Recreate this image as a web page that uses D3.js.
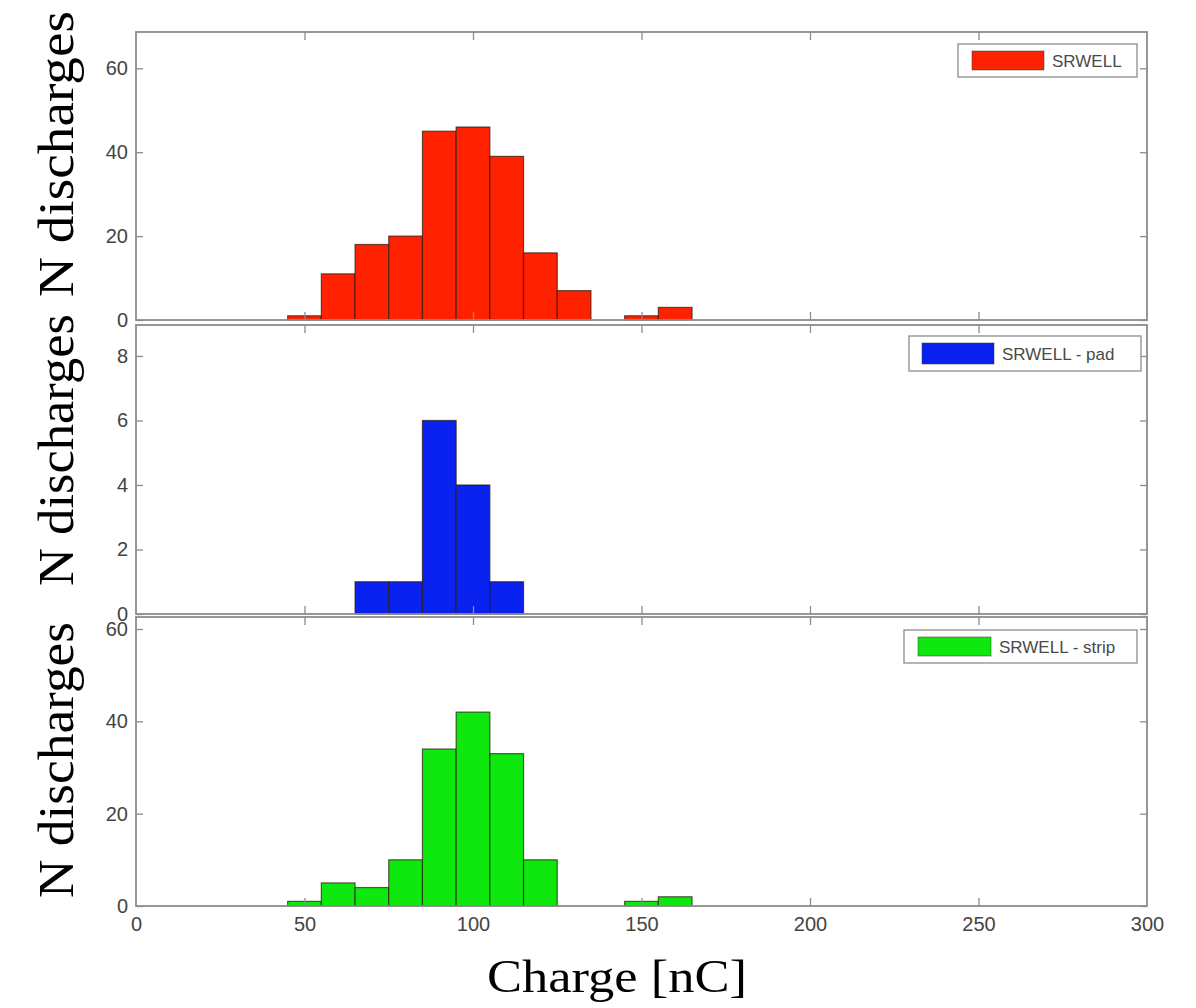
<!DOCTYPE html>
<html>
<head>
<meta charset="utf-8">
<script src="https://cdn.jsdelivr.net/npm/d3@7"></script>
<style>
  html, body { margin: 0; padding: 0; background: #fff; }
  svg { display: block; }
</style>
</head>
<body>
<svg id="chart" width="1196" height="1008"></svg>
<script>
// ---- data ----
const binStarts = [45, 55, 65, 75, 85, 95, 105, 115, 125, 135, 145, 155];
const binWidth = 10;
const srwell      = [1, 11, 18, 20, 45, 46, 39, 16, 7, 0, 1, 3];
const srwellPad   = [0, 0, 1, 1, 6, 4, 1, 0, 0, 0, 0, 0];
const srwellStrip = [1, 5, 4, 10, 34, 42, 33, 10, 0, 0, 1, 2];
const seriesNames = ["SRWELL", "SRWELL - pad", "SRWELL - strip"];
const seriesColors = ["#ff2200", "#0a22f0", "#0ee80e"];
const xTicks = [0, 50, 100, 150, 200, 250, 300];
const yTicksTop = [0, 20, 40, 60];
const yTicksMid = [0, 2, 4, 6, 8];
const yTicksBot = [0, 20, 40, 60];
const yLabel = "N discharges";
const xLabel = "Charge [nC]";

// ---- layout ----
const svg = d3.select("#chart");
const x = d3.scaleLinear().domain([0, 300]).range([136, 1147]);

const panels = [
  { values: srwell,      ticks: yTicksTop, yMax: 68.65, top: 32,  bottom: 320, name: seriesNames[0], color: seriesColors[0],
    legend: { x: 958, y: 44, w: 179, h: 33, sx: 972, sw: 72 }, label: { cy: 154, len: 286 }, showX: false },
  { values: srwellPad,   ticks: yTicksMid, yMax: 8.96,  top: 325, bottom: 614, name: seriesNames[1], color: seriesColors[1],
    legend: { x: 909, y: 336, w: 232, h: 35, sx: 922, sw: 72 }, label: { cy: 450, len: 272 }, showX: false },
  { values: srwellStrip, ticks: yTicksBot, yMax: 62.6,  top: 617, bottom: 906, name: seriesNames[2], color: seriesColors[2],
    legend: { x: 904, y: 630, w: 233, h: 33, sx: 918, sw: 73 }, label: { cy: 760, len: 276 }, showX: true }
];

const frameColor = "#8c8c8c";
const tickTextColor = "#444";

panels.forEach(p => {
  const y = d3.scaleLinear().domain([0, p.yMax]).range([p.bottom, p.top]);
  const g = svg.append("g");

  // background
  g.append("rect")
    .attr("x", x(0)).attr("y", p.top)
    .attr("width", x(300) - x(0)).attr("height", p.bottom - p.top)
    .attr("fill", "#fff");

  // bars
  const bins = binStarts.map((s, i) => ({ s, v: p.values[i] })).filter(d => d.v > 0);
  g.selectAll("rect.bar").data(bins).enter().append("rect")
    .attr("class", "bar")
    .attr("x", d => x(d.s))
    .attr("width", d => x(d.s + binWidth) - x(d.s))
    .attr("y", d => y(d.v))
    .attr("height", d => y(0) - y(d.v))
    .attr("fill", p.color)
    .attr("stroke", "#2a1a10")
    .attr("stroke-opacity", 0.7)
    .attr("stroke-width", 1.2);

  // axes (ticks inside)
  const styleAxis = sel => {
    sel.select(".domain").remove();
    sel.selectAll(".tick line").attr("stroke", frameColor).attr("stroke-width", 1.3);
    sel.selectAll(".tick text")
      .attr("fill", tickTextColor)
      .style("font-family", "'Liberation Sans', Arial, sans-serif")
      .style("font-size", "20px");
  };

  g.append("g").attr("transform", `translate(${x(0)},0)`)
    .call(d3.axisLeft(y).tickValues(p.ticks).tickSizeInner(-7).tickSizeOuter(0).tickPadding(8).tickFormat(d3.format("d")))
    .call(styleAxis);

  g.append("g").attr("transform", `translate(${x(300)},0)`)
    .call(d3.axisRight(y).tickValues(p.ticks).tickSizeInner(-7).tickSizeOuter(0).tickFormat(""))
    .call(styleAxis);

  g.append("g").attr("transform", `translate(0,${p.top})`)
    .call(d3.axisTop(x).tickValues(xTicks.slice(1, -1)).tickSizeInner(-8).tickSizeOuter(0).tickFormat(""))
    .call(styleAxis);

  g.append("g").attr("transform", `translate(0,${p.bottom})`)
    .call(d3.axisBottom(x).tickValues(p.showX ? xTicks : xTicks.slice(1, -1)).tickSizeInner(-8).tickSizeOuter(0).tickPadding(11)
      .tickFormat(p.showX ? d3.format("d") : ""))
    .call(styleAxis)
    .call(sel => sel.selectAll(".tick line").filter(d => d === 0 || d === 300).remove());

  // frame
  g.append("rect")
    .attr("x", x(0)).attr("y", p.top)
    .attr("width", x(300) - x(0)).attr("height", p.bottom - p.top)
    .attr("fill", "none").attr("stroke", frameColor).attr("stroke-width", 1.8);

  // legend
  const L = p.legend;
  g.append("rect").attr("x", L.x).attr("y", L.y).attr("width", L.w).attr("height", L.h)
    .attr("fill", "#fff").attr("stroke", frameColor).attr("stroke-width", 1.3);
  g.append("rect").attr("x", L.sx).attr("y", L.y + 7).attr("width", L.sw).attr("height", L.h - 14)
    .attr("fill", p.color).attr("stroke", "#333").attr("stroke-opacity", 0.5).attr("stroke-width", 1);
  g.append("text").attr("x", L.sx + L.sw + 8).attr("y", L.y + L.h / 2)
    .attr("dy", "0.36em")
    .attr("fill", "#4a4a4a")
    .style("font-family", "'Liberation Sans', Arial, sans-serif")
    .style("font-size", "17px")
    .text(p.name);

  // y label
  svg.append("text")
    .attr("transform", `translate(73,${p.label.cy}) rotate(-90)`)
    .attr("text-anchor", "middle")
    .attr("textLength", p.label.len)
    .attr("lengthAdjust", "spacingAndGlyphs")
    .style("font-family", "'Liberation Serif', 'Times New Roman', serif")
    .style("font-size", "50px")
    .attr("fill", "#000")
    .text(yLabel);
});

// x label
svg.append("text")
  .attr("x", 617).attr("y", 992)
  .attr("text-anchor", "middle")
  .attr("textLength", 260)
  .attr("lengthAdjust", "spacingAndGlyphs")
  .style("font-family", "'Liberation Serif', 'Times New Roman', serif")
  .style("font-size", "46px")
  .attr("fill", "#000")
  .text(xLabel);
</script>
</body>
</html>
